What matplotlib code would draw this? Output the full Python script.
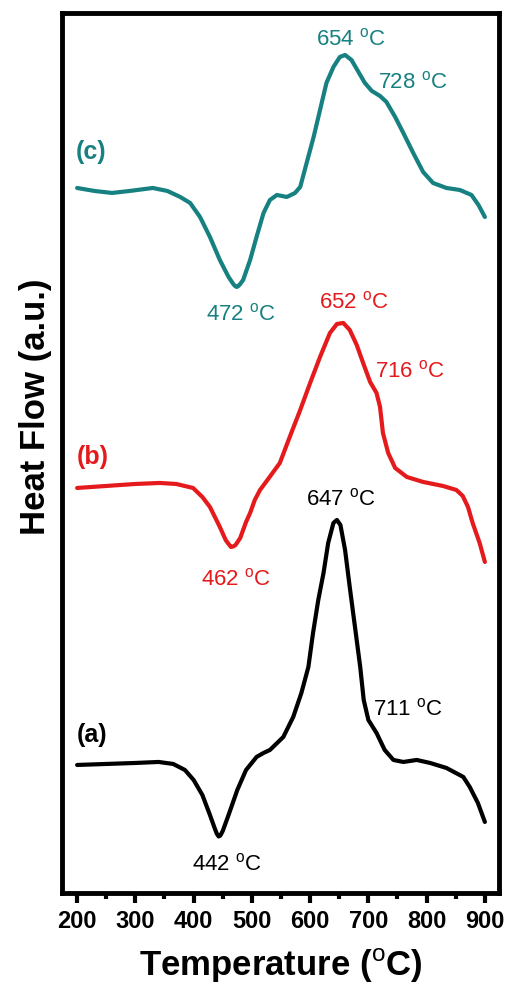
import matplotlib
matplotlib.use("Agg")
import matplotlib.pyplot as plt
from matplotlib.ticker import MultipleLocator

plt.rcParams['font.family'] = ['Liberation Sans', 'DejaVu Sans']
plt.rcParams['mathtext.fontset'] = 'custom'
plt.rcParams['mathtext.rm'] = 'Liberation Sans'

# DSC curves, heat flow in arbitrary units (already offset per sample)
T_a = [200, 250, 300, 340, 365, 385, 400, 415, 428, 436, 440, 443, 446, 450, 460,
       475, 490, 497, 508, 520, 531, 554, 571, 585, 597, 605, 614, 623, 631, 640,
       646, 652, 660, 668, 677, 686, 692, 700, 714, 728, 743, 760, 783, 806, 834,
       863, 874, 888, 900]
hf_a = [1.28, 1.29, 1.30, 1.31, 1.29, 1.23, 1.13, 0.98, 0.78, 0.65, 0.59, 0.565, 0.575,
        0.62, 0.78, 1.03, 1.23, 1.28, 1.36, 1.40, 1.43, 1.56, 1.76, 2.00, 2.26, 2.60,
        2.93, 3.20, 3.50, 3.70, 3.73, 3.68, 3.43, 3.06, 2.66, 2.26, 1.93, 1.73, 1.60,
        1.43, 1.33, 1.31, 1.33, 1.30, 1.25, 1.16, 1.06, 0.90, 0.71]

T_b = [200, 250, 300, 342, 370, 399, 415, 428, 445, 455, 460, 464, 468, 472, 480,
       490, 497, 505, 514, 528, 548, 565, 583, 600, 617, 634, 646, 657, 668, 680,
       691, 703, 714, 720, 725, 734, 746, 766, 794, 828, 851, 862, 871, 879, 891,
       900]
hf_b = [4.05, 4.07, 4.09, 4.10, 4.09, 4.05, 3.96, 3.86, 3.66, 3.53, 3.49, 3.46, 3.465,
        3.48, 3.55, 3.71, 3.80, 3.93, 4.03, 4.14, 4.30, 4.56, 4.83, 5.10, 5.36, 5.60,
        5.69, 5.70, 5.63, 5.48, 5.30, 5.11, 5.00, 4.86, 4.60, 4.40, 4.25, 4.16, 4.11,
        4.07, 4.03, 3.97, 3.86, 3.70, 3.50, 3.31]

T_c = [200, 230, 260, 290, 330, 355, 377, 394, 411, 428, 445, 460, 468, 471, 474,
       477, 480, 485, 497, 508, 520, 531, 543, 560, 574, 583, 594, 606, 617, 628,
       640, 651, 660, 671, 683, 694, 706, 720, 731, 746, 760, 777, 794, 811, 834,
       857, 877, 889, 900]
hf_c = [7.05, 7.02, 7.00, 7.02, 7.05, 7.02, 6.96, 6.90, 6.76, 6.56, 6.33, 6.16, 6.09,
        6.07, 6.06, 6.07, 6.09, 6.13, 6.33, 6.56, 6.80, 6.93, 6.98, 6.96, 7.00, 7.06,
        7.30, 7.56, 7.83, 8.10, 8.26, 8.36, 8.38, 8.33, 8.21, 8.10, 8.02, 7.97, 7.91,
        7.76, 7.60, 7.40, 7.21, 7.10, 7.05, 7.03, 6.98, 6.88, 6.76]

black = 'black'
red = '#e41a1c'
teal = '#178080'

# peak labels: (text, T, heat flow at baseline, colour)
peak_labels = [
    ('654', 670, 8.48, teal), ('728', 776, 8.05, teal), ('472', 481, 5.73, teal),
    ('652', 675, 5.85, red), ('716', 771, 5.16, red), ('462', 473, 3.08, red),
    ('647', 653, 3.88, black), ('711', 768, 1.78, black), ('442', 457, 0.23, black),
]
sample_labels = [('(c)', 224, 7.41, teal), ('(b)', 226, 4.36, red), ('(a)', 226, 1.58, black)]

fig = plt.figure(figsize=(5.08, 9.83), dpi=100)
ax = fig.add_axes([0.122, 0.0916, 0.860, 0.8952])

for T, hf, c in [(T_a, hf_a, black), (T_b, hf_b, red), (T_c, hf_c, teal)]:
    ax.plot(T, hf, color=c, lw=3.0, solid_joinstyle='round', solid_capstyle='round')

for txt, x, y, c in peak_labels:
    ax.text(x, y, txt + r' $^{\rm o}$C', color=c, fontsize=16, ha='center', va='baseline')
for txt, x, y, c in sample_labels:
    ax.text(x, y, txt, color=c, fontsize=18, fontweight='bold', ha='center', va='center')

ax.set_xlim(174, 924)
ax.set_ylim(0, 8.8)
ax.set_yticks([])
ax.xaxis.set_major_locator(MultipleLocator(100))
ax.xaxis.set_minor_locator(MultipleLocator(50))
ax.tick_params(axis='x', which='major', direction='out', length=7, width=3, pad=5,
               labelsize=17)
ax.tick_params(axis='x', which='minor', direction='out', length=4, width=3)
for lab in ax.get_xticklabels():
    lab.set_fontweight('bold')
for s in ax.spines.values():
    s.set_linewidth(3.5)

ax.set_xlabel(r'Temperature ($^{\rm o}$C)', fontsize=25, fontweight='bold', labelpad=10)
ax.set_ylabel('Heat Flow (a.u.)', fontsize=25, fontweight='bold')
ax.yaxis.set_label_coords(-0.023, 0.553)

fig.savefig('out.png', dpi=100)
